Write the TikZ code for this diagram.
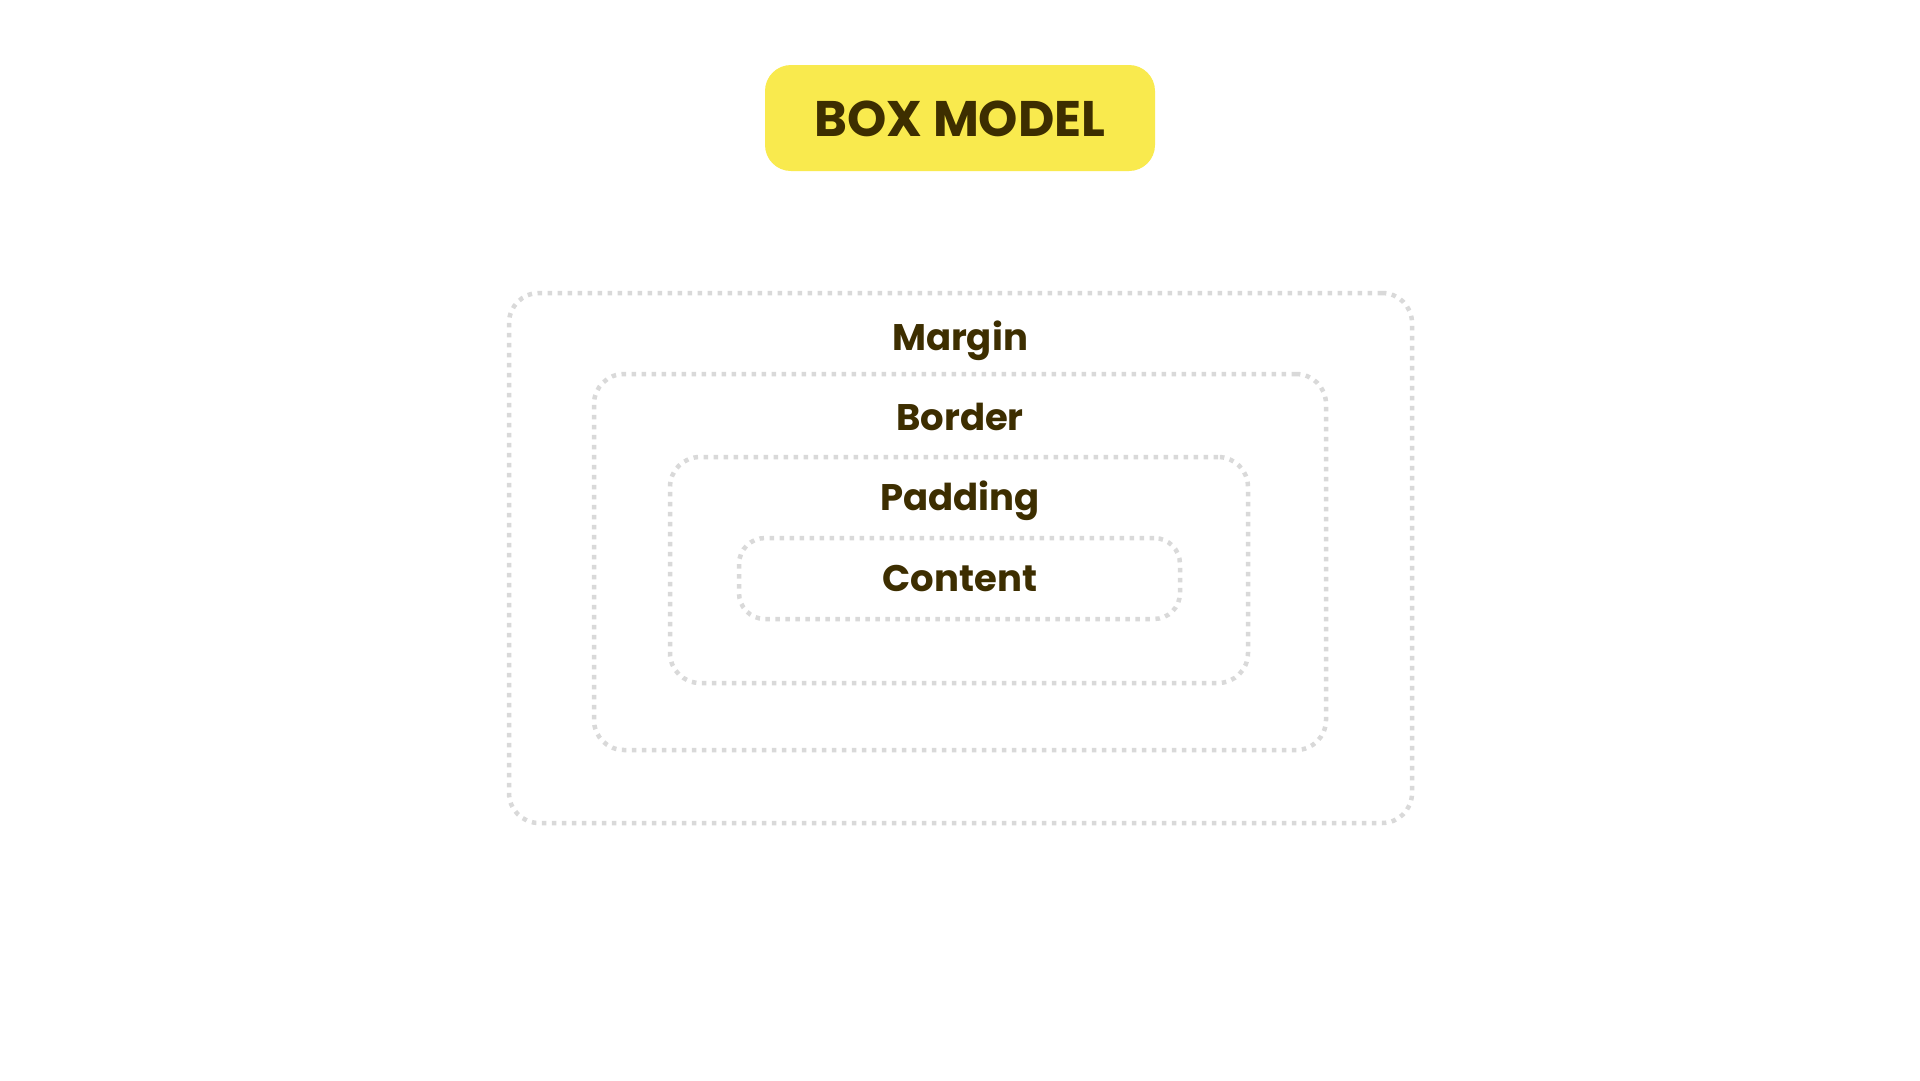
\documentclass[tikz,border=0pt]{standalone}
\usepackage{fontspec}
\newfontfamily\pop{Poppins}[BoldFont={Poppins Bold}]
\definecolor{txtbrown}{HTML}{3D2E00}
\definecolor{titleyellow}{HTML}{F9EA4E}
\definecolor{dotgray}{HTML}{D9D9D9}
\begin{document}
\begin{tikzpicture}[x=1pt,y=-1pt,
  layerbox/.style={draw=dotgray, line width=4.5pt, dash pattern=on 4.5pt off 5.5pt,
    rounded corners=#1, inner sep=0pt},
  layerbox/.default=30pt,
  lbl/.style={font=\pop\bfseries\fontsize{37}{42}\selectfont, text=txtbrown, anchor=base, inner sep=0pt},
  titlebox/.style={fill=titleyellow, rounded corners=26pt, inner sep=0pt,
    minimum width=390pt, minimum height=106pt}
]
\useasboundingbox (0,0) rectangle (1920,1080);
\fill[white] (0,0) rectangle (1920,1080);

\node[titlebox] (title) at (960,118) {};
\node[font=\pop\bfseries\fontsize{50}{56}\selectfont, text=txtbrown, anchor=base, inner sep=0pt] (titletext) at (960,136) {BOX MODEL};

\node[layerbox, minimum width=903pt, minimum height=530pt] (margin) at (960.5,558) {};
\node[layerbox, minimum width=732pt, minimum height=376pt] (border) at (960,562) {};
\node[layerbox, minimum width=578pt, minimum height=226pt] (padding) at (959,570) {};
\node[layerbox=26pt, minimum width=441pt, minimum height=81pt] (content) at (959.5,578.5) {};

\node[lbl] (marginlbl) at (960,350) {Margin};
\node[lbl] (borderlbl) at (960,430) {Border};
\node[lbl] (paddinglbl) at (960,510) {Padding};
\node[lbl] (contentlbl) at (960,591) {Content};
\end{tikzpicture}
\end{document}
